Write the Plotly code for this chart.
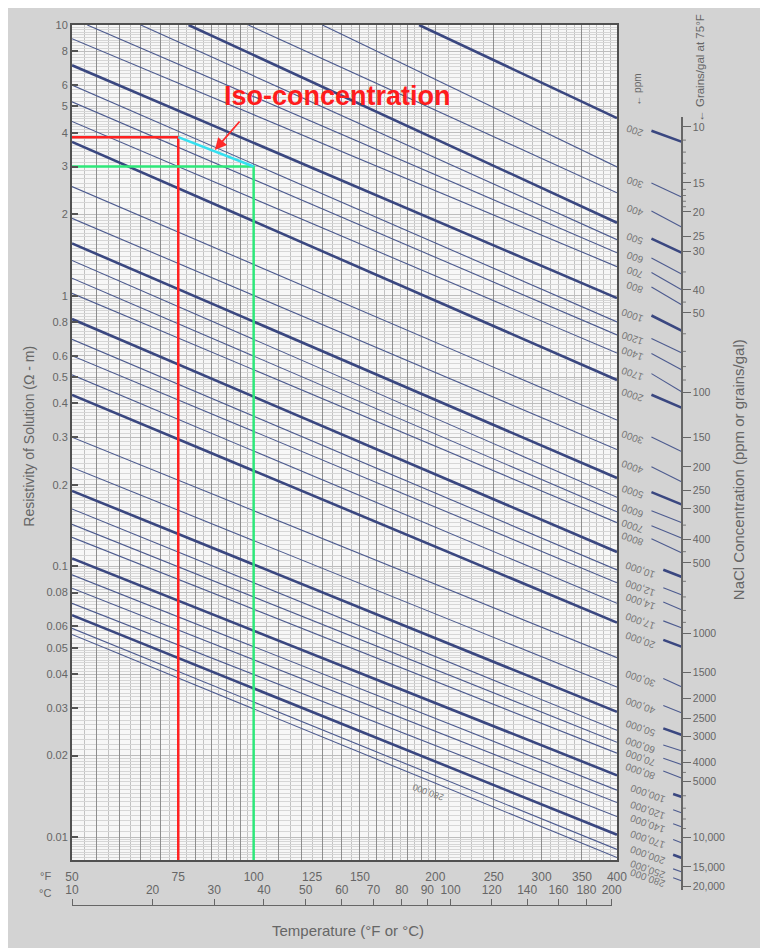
import math
import plotly.graph_objects as go

# ---------------- data ----------------
concentration_ppm = [200, 300, 400, 500, 600, 700, 800, 1000, 1200, 1400, 1700, 2000,
                     3000, 4000, 5000, 6000, 7000, 8000, 10000, 12000, 14000, 17000, 20000,
                     30000, 40000, 50000, 60000, 70000, 80000, 100000, 120000, 140000,
                     170000, 200000, 250000, 280000]
heavy_ppm = [200, 500, 1000, 2000, 5000, 10000, 20000, 50000, 100000, 200000]

# where each iso-concentration line enters the grid (top edge or 50 degF edge)
start_temp_f = [188, 130, 98, 78, 65, 53, 50, 50, 50, 50, 50, 50,
                50, 50, 50, 50, 50, 50, 50, 50, 50, 50, 50,
                50, 50, 50, 50, 50, 50, 50, 50, 50, 50, 50, 50, 50]
start_res = [10, 10, 10, 10, 10, 10, 8.9, 7.1, 6.0, 5.2, 4.4, 3.7,
             2.53, 1.93, 1.56, 1.35, 1.16, 1.02, 0.82, 0.69, 0.60, 0.51, 0.43,
             0.30, 0.232, 0.19, 0.163, 0.143, 0.128, 0.107, 0.093, 0.083,
             0.073, 0.066, 0.059, 0.056]
# resistivity where each line leaves the grid at 400 degF
end_temp_f = 400
end_res = [4.53, 2.99, 2.40, 1.86, 1.61, 1.44, 1.28, 0.98, 0.80, 0.716, 0.614, 0.488,
           0.347, 0.27, 0.212, 0.180, 0.159, 0.145, 0.113, 0.097, 0.087, 0.073, 0.062,
           0.046, 0.0358, 0.029, 0.0248, 0.0224, 0.0204, 0.0169, 0.0149, 0.0134,
           0.0119, 0.0102, 0.0090, 0.0084]
# resistivity-equivalent height where each line meets the concentration scale
scale_res = [3.70, 2.31, 1.79, 1.44, 1.20, 1.05, 0.924, 0.741, 0.614, 0.531, 0.441, 0.385,
             0.265, 0.205, 0.169, 0.145, 0.127, 0.112, 0.0913, 0.0783, 0.0690, 0.0592, 0.0504,
             0.0358, 0.0287, 0.0238, 0.0208, 0.0185, 0.0165, 0.01405, 0.01227, 0.01089,
             0.00950, 0.00837, 0.00743, 0.00688]

grain_ticks = [10, 15, 20, 25, 30, 40, 50, 100, 150, 200, 250, 300, 400, 500,
               1000, 1500, 2000, 2500, 3000, 4000, 5000, 10000, 15000, 20000]
grain_tick_res = [4.20, 2.61, 2.04, 1.66, 1.46, 1.05, 0.863, 0.4405, 0.300, 0.233, 0.191,
                  0.163, 0.126, 0.103, 0.0567, 0.0407, 0.0326, 0.0275, 0.0236, 0.0188,
                  0.0161, 0.0100, 0.00775, 0.00659]
grain_minor = [11, 12, 13, 14, 16, 17, 18, 19, 35, 45, 60, 70, 80, 90, 350, 450,
               600, 700, 800, 900, 3500, 4500, 6000, 7000, 8000, 9000]

f_ticks = [50, 75, 100, 125, 150, 200, 250, 300, 350, 400]
c_ticks = [10, 20, 30, 40, 50, 60, 70, 80, 90, 100, 120, 140, 160, 180, 200]
res_ticks = [10, 8, 6, 5, 4, 3, 2, 1, 0.8, 0.6, 0.5, 0.4, 0.3, 0.2,
             0.1, 0.08, 0.06, 0.05, 0.04, 0.03, 0.02, 0.01]
res_tick_text = ["10", "8", "6", "5", "4", "3", "2", "1", "0.8", "0.6", "0.5", "0.4", "0.3",
                 "0.2", "0.1", "0.08", "0.06", "0.05", "0.04", "0.03", "0.02", "0.01"]

example_temp_f = [75, 100]
example_res = [3.85, 3.0]

# ---------------- geometry / style ----------------
# coordinates below are in reference-picture pixels; the page adds an 8 px body margin
OFF = 8
W, H = 768 - OFF, 948 - OFF
L, T = 72, 25
AREA_R, AREA_B = 760, 908
PLOT_R, PLOT_B = 625, 860
PX_DEC_Y = 270.67
aw, ah = AREA_R - L, AREA_B - T
lx0 = math.log10(50)
px_dec_x = (PLOT_R - L) / math.log10(400 / 50)
y_main_range = [1 - (PLOT_B - T) / PX_DEC_Y, 1]
r_bottom = 10 ** y_main_range[0]


def pxx(x):
    return (x - L) / aw


def pxy(y):
    return (AREA_B - y) / ah


def t_at(px):
    return 10 ** (lx0 + (px - L) / px_dec_x)


def num(v):
    return f"{v:,}" if v >= 10000 else str(v)


FONT = "Arial, Liberation Sans, sans-serif"
GREY_TXT = "#666666"
LINE_COL = "#4d5b8f"
HEAVY_COL = "#3a4780"

# grid positions
dark_x = ([55 + 5 * k for k in range(10)] + [110 + 10 * k for k in range(10)]
          + [250, 300, 350])
light_x = ([52.5 + 5 * k for k in range(10)] + [105 + 10 * k for k in range(10)]
           + [v for v in range(210, 400, 10) if v % 50])
light_y = []
for dec in [0.001, 0.01, 0.1, 1]:
    light_y += [dec * (1 + 0.05 * k) for k in range(1, 20)]
    light_y += [dec * (2 + 0.1 * k) for k in range(0, 30)]
    light_y += [dec * (5 + 0.2 * k) for k in range(0, 25)]

# minor tick heights on the grains scale, placed between neighbouring labelled ticks
grain_minor_res = []
for g in grain_minor:
    for (g0, r0), (g1, r1) in zip(zip(grain_ticks, grain_tick_res),
                                  zip(grain_ticks[1:], grain_tick_res[1:])):
        if g0 < g < g1:
            f = math.log10(g / g0) / math.log10(g1 / g0)
            grain_minor_res.append(10 ** (math.log10(r0) + f * (math.log10(r1) - math.log10(r0))))

fig = go.Figure()

# main iso-concentration lines
for c, t0, r0, r1 in zip(concentration_ppm, start_temp_f, start_res, end_res):
    heavy = c in heavy_ppm
    fig.add_trace(go.Scatter(
        x=[t0, end_temp_f], y=[r0, r1], mode="lines",
        line=dict(color=HEAVY_COL if heavy else LINE_COL, width=2.6 if heavy else 1.1),
        xaxis="x", yaxis="y", hoverinfo="skip", showlegend=False))

# continuation stubs at the concentration scale
scale_t = t_at(691)
annotations = []
for c, r1, rs in zip(concentration_ppm, end_res, scale_res):
    heavy = c in heavy_ppm
    sx = 660 if c < 10000 else (672 if c < 100000 else 682)
    ts = t_at(sx)
    f = math.log10(ts / end_temp_f) / math.log10(scale_t / end_temp_f)
    rseg = 10 ** (math.log10(r1) + f * (math.log10(rs) - math.log10(r1)))
    fig.add_trace(go.Scatter(
        x=[ts, scale_t], y=[rseg, rs], mode="lines",
        line=dict(color=HEAVY_COL if heavy else LINE_COL, width=2.6 if heavy else 1.1),
        xaxis="x2", yaxis="y2", hoverinfo="skip", showlegend=False))
    annotations.append(dict(
        xref="paper", yref="y2", x=pxx(sx - 4), y=math.log10(rseg),
        xanchor="right", yanchor="middle", text=num(c), textangle=-160,
        showarrow=False, font=dict(family=FONT, size=10, color="#777777")))

# small intermediate ticks on the grains scale
mx, my = [], []
for r in grain_minor_res:
    mx += [scale_t, t_at(695), None]
    my += [r, r, None]
fig.add_trace(go.Scatter(x=mx, y=my, mode="lines", line=dict(color="#777777", width=1),
                         xaxis="x2", yaxis="y2", hoverinfo="skip", showlegend=False))

# example construction (red / green / cyan)
fig.add_trace(go.Scatter(x=[50, example_temp_f[0], example_temp_f[0]],
                         y=[example_res[0], example_res[0], r_bottom], mode="lines",
                         line=dict(color="#ff2222", width=2.5), xaxis="x", yaxis="y",
                         hoverinfo="skip", showlegend=False))
fig.add_trace(go.Scatter(x=[50, example_temp_f[1], example_temp_f[1]],
                         y=[example_res[1], example_res[1], r_bottom], mode="lines",
                         line=dict(color="#2ee87a", width=2.5), xaxis="x", yaxis="y",
                         hoverinfo="skip", showlegend=False))
fig.add_trace(go.Scatter(x=example_temp_f, y=example_res, mode="lines",
                         line=dict(color="#35e0f0", width=2.5), xaxis="x", yaxis="y",
                         hoverinfo="skip", showlegend=False))

# invisible anchors for helper axes
for xa, ya in [("x3", "y2"), ("x2", "y3"), ("x4", "y")]:
    fig.add_trace(go.Scatter(x=[100], y=[1], mode="markers", marker=dict(opacity=0),
                             xaxis=xa, yaxis=ya, hoverinfo="skip", showlegend=False))

c_end_px = L + math.log10((200 * 9 / 5 + 32) / 50) * px_dec_x

fig.update_layout(
    width=W, height=H,
    margin=dict(l=L - OFF, r=W - (AREA_R - OFF), t=T - OFF, b=H - (AREA_B - OFF)),
    paper_bgcolor="#d3d3d3", plot_bgcolor="rgba(0,0,0,0)",
    font=dict(family=FONT, color=GREY_TXT),
    xaxis=dict(type="log", domain=[0, pxx(PLOT_R)], anchor="y",
               range=[lx0, math.log10(400)],
               tickmode="array", tickvals=f_ticks, ticktext=[str(v) for v in f_ticks],
               ticks="", ticklabelstandoff=5, tickfont=dict(size=12, color=GREY_TXT),
               showline=True, mirror=True, linecolor="#505050", linewidth=2,
               showgrid=False,
               minor=dict(tickmode="array", tickvals=light_x, showgrid=True,
                          gridcolor="#c2c2c2", gridwidth=1, ticks="")),
    xaxis4=dict(type="log", overlaying="x", anchor="y", range=[lx0, math.log10(400)],
                tickmode="array", tickvals=dark_x, showticklabels=False, ticks="",
                showgrid=True, gridcolor="#8e8e8e", gridwidth=1),
    yaxis=dict(type="log", domain=[pxy(PLOT_B), 1], anchor="x", range=y_main_range,
               tickmode="array", tickvals=res_ticks, ticktext=res_tick_text,
               ticks="inside", ticklen=6, tickwidth=1.5, tickcolor="#555555",
               tickfont=dict(size=11, color=GREY_TXT),
               showline=True, mirror=True, linecolor="#505050", linewidth=2,
               showgrid=True, gridcolor="#bdbdbd", gridwidth=1,
               minor=dict(tickmode="array", tickvals=light_y, showgrid=True,
                          gridcolor="#d6d6d6", gridwidth=1, ticks="")),
    xaxis2=dict(type="log", domain=[0, 1], anchor="y2", visible=False,
                range=[lx0, lx0 + aw / px_dec_x]),
    yaxis2=dict(type="log", domain=[0, 1], anchor="x2", visible=False,
                range=[1 - ah / PX_DEC_Y, 1]),
    xaxis3=dict(type="log", domain=[0, pxx(c_end_px)], anchor="free", position=pxy(905),
                side="top", range=[lx0, math.log10(200 * 9 / 5 + 32)],
                tickmode="array", tickvals=[c * 9 / 5 + 32 for c in c_ticks],
                ticktext=[str(c) for c in c_ticks], ticks="outside", ticklen=6,
                tickcolor="#666666", tickfont=dict(size=12, color=GREY_TXT),
                showline=True, linecolor="#666666", linewidth=1.2, showgrid=False),
    yaxis3=dict(type="log", domain=[pxy(890), pxy(117)], anchor="free", position=pxx(691),
                side="right", range=[1 - (890 - T) / PX_DEC_Y, 1 - (117 - T) / PX_DEC_Y],
                tickmode="array", tickvals=grain_tick_res,
                ticktext=[num(g) for g in grain_ticks], ticks="outside", ticklen=8,
                tickcolor="#666666", tickfont=dict(size=10.5, color=GREY_TXT),
                showline=True, linecolor="#666666", linewidth=1.5, showgrid=False),
)

fig.add_shape(type="rect", xref="x domain", yref="y domain", x0=0, x1=1, y0=0, y1=1,
              fillcolor="#f7f7f7", line=dict(width=0), layer="below")


def note(x, y, text, size, angle=0, color=GREY_TXT, **kw):
    d = dict(xref="paper", yref="paper", x=pxx(x), y=pxy(y), text=text, showarrow=False,
             xanchor="center", yanchor="middle", textangle=angle,
             font=dict(family=FONT, size=size, color=color))
    d.update(kw)
    return d


annotations += [
    note(45, 876, "°F", 11),
    note(45, 893, "°C", 11),
    note(352, 931, "Temperature (°F or °C)", 15),
    note(28, 436, "Resistivity of Solution (Ω - m)", 14, -90),
    note(748, 470, "NaCl Concentration (ppm or grains/gal)", 15, -90),
    note(709, 68, "← Grains/gal at 75°F", 11.5, -90),
    note(646, 90, "← ppm", 10, -90),
    note(433, 792, "280,000", 9, -160, "#777777"),
    note(341, 96, "<b>Iso-concentration</b>", 27, 0, "#ff1c1c"),
    dict(xref="paper", yref="paper", x=pxx(217), y=pxy(150), text="", showarrow=True,
         ax=26, ay=-30, arrowhead=2, arrowsize=1.3, arrowwidth=1.8, arrowcolor="#ff2a2a"),
]
fig.update_layout(annotations=annotations)

fig.write_html("out.html")
